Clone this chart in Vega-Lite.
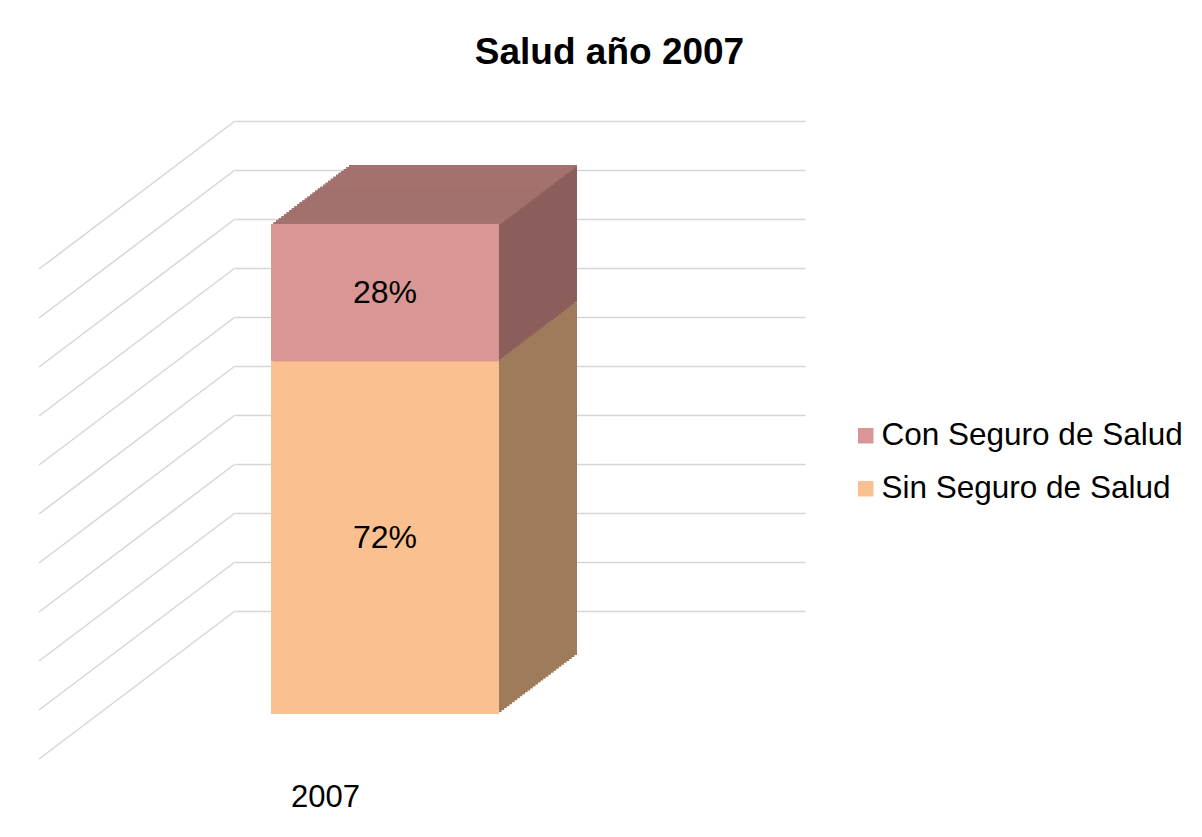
{
  "$schema": "https://vega.github.io/schema/vega-lite/v6.json",
  "width": 570,
  "height": 490,
  "autosize": "none",
  "padding": {"left": 235, "top": 121, "right": 397, "bottom": 226},
  "background": "#ffffff",
  "config": {"view": {"stroke": null}, "font": "Liberation Sans"},
  "title": {"text": "Salud año 2007", "fontSize": 37, "fontWeight": "bold", "color": "#000000", "anchor": "middle", "baseline": "alphabetic", "offset": 56, "dx": 89.5, "dy": 37},
  "datasets": {
    "salud": [
      {"year": "2007", "serie": "Con Seguro de Salud", "pct": 0.28},
      {"year": "2007", "serie": "Sin Seguro de Salud", "pct": 0.72}
    ],
    "grid": [{"g": 0}, {"g": 0.1}, {"g": 0.2}, {"g": 0.3}, {"g": 0.4}, {"g": 0.5}, {"g": 0.6}, {"g": 0.7}, {"g": 0.8}, {"g": 0.9}, {"g": 1}]
  },
  "layer": [
    {
      "data": {"name": "grid"},
      "mark": {"type": "rule", "color": "#D6D6D6", "strokeWidth": 1.5, "xOffset": -285, "x2Offset": -481, "y2Offset": 148},
      "encoding": {
        "x": {"datum": "2007", "type": "nominal", "scale": {"paddingInner": 0, "paddingOuter": 0.75}, "axis": {"title": null, "domain": false, "ticks": false, "tickSize": 0, "grid": false, "labelAngle": 0, "labelFontSize": 31, "labelColor": "#000000", "labelFont": "Liberation Sans", "labelOffset": -194.5, "labelPadding": 195, "labelBaseline": "alphabetic"}},
        "x2": {"datum": "2007"},
        "y": {"field": "g", "type": "quantitative", "scale": {"domain": [0, 1], "nice": false}, "axis": {"title": null, "values": [0, 0.1, 0.2, 0.3, 0.4, 0.5, 0.6, 0.7, 0.8, 0.9, 1], "domain": false, "ticks": false, "labels": false, "grid": true, "gridColor": "#D6D6D6", "gridWidth": 1.5}},
        "y2": {"field": "g"}
      }
    },
    {
      "data": {"name": "salud"},
      "transform": [{"stack": "pct", "groupby": ["year"], "sort": [{"field": "serie", "order": "descending"}], "as": ["y0", "y1"]}],
      "encoding": {
        "x": {"field": "year", "type": "nominal", "scale": {"paddingInner": 0, "paddingOuter": 0.75}, "axis": {"title": null, "domain": false, "ticks": false, "tickSize": 0, "grid": false, "labelAngle": 0, "labelFontSize": 31, "labelColor": "#000000", "labelFont": "Liberation Sans", "labelOffset": -194.5, "labelPadding": 195, "labelBaseline": "alphabetic"}},
        "y": {"field": "y1", "type": "quantitative", "scale": {"domain": [0, 1], "nice": false}, "axis": {"title": null, "values": [0, 0.1, 0.2, 0.3, 0.4, 0.5, 0.6, 0.7, 0.8, 0.9, 1], "domain": false, "ticks": false, "labels": false, "grid": true, "gridColor": "#D6D6D6", "gridWidth": 1.5}},
        "y2": {"field": "y0"}
      },
      "layer": [
        {
          "encoding": {"fill": {"condition": {"test": "datum.serie === 'Con Seguro de Salud'", "value": "#8B5E5C"}, "value": "#9E7C5B"}},
          "layer": [
            {"mark": {"type": "bar", "xOffset": -57, "yOffset": 44, "y2Offset": 44}},
            {"mark": {"type": "bar", "xOffset": -59.6, "yOffset": 45.97, "y2Offset": 45.97}},
            {"mark": {"type": "bar", "xOffset": -62.2, "yOffset": 47.93, "y2Offset": 47.93}},
            {"mark": {"type": "bar", "xOffset": -64.8, "yOffset": 49.9, "y2Offset": 49.9}},
            {"mark": {"type": "bar", "xOffset": -67.4, "yOffset": 51.87, "y2Offset": 51.87}},
            {"mark": {"type": "bar", "xOffset": -70, "yOffset": 53.83, "y2Offset": 53.83}},
            {"mark": {"type": "bar", "xOffset": -72.6, "yOffset": 55.8, "y2Offset": 55.8}},
            {"mark": {"type": "bar", "xOffset": -75.2, "yOffset": 57.77, "y2Offset": 57.77}},
            {"mark": {"type": "bar", "xOffset": -77.8, "yOffset": 59.73, "y2Offset": 59.73}},
            {"mark": {"type": "bar", "xOffset": -80.4, "yOffset": 61.7, "y2Offset": 61.7}},
            {"mark": {"type": "bar", "xOffset": -83, "yOffset": 63.67, "y2Offset": 63.67}},
            {"mark": {"type": "bar", "xOffset": -85.6, "yOffset": 65.63, "y2Offset": 65.63}},
            {"mark": {"type": "bar", "xOffset": -88.2, "yOffset": 67.6, "y2Offset": 67.6}},
            {"mark": {"type": "bar", "xOffset": -90.8, "yOffset": 69.57, "y2Offset": 69.57}},
            {"mark": {"type": "bar", "xOffset": -93.4, "yOffset": 71.53, "y2Offset": 71.53}},
            {"mark": {"type": "bar", "xOffset": -96, "yOffset": 73.5, "y2Offset": 73.5}},
            {"mark": {"type": "bar", "xOffset": -98.6, "yOffset": 75.47, "y2Offset": 75.47}},
            {"mark": {"type": "bar", "xOffset": -101.2, "yOffset": 77.43, "y2Offset": 77.43}},
            {"mark": {"type": "bar", "xOffset": -103.8, "yOffset": 79.4, "y2Offset": 79.4}},
            {"mark": {"type": "bar", "xOffset": -106.4, "yOffset": 81.37, "y2Offset": 81.37}},
            {"mark": {"type": "bar", "xOffset": -109, "yOffset": 83.33, "y2Offset": 83.33}},
            {"mark": {"type": "bar", "xOffset": -111.6, "yOffset": 85.3, "y2Offset": 85.3}},
            {"mark": {"type": "bar", "xOffset": -114.2, "yOffset": 87.27, "y2Offset": 87.27}},
            {"mark": {"type": "bar", "xOffset": -116.8, "yOffset": 89.23, "y2Offset": 89.23}},
            {"mark": {"type": "bar", "xOffset": -119.4, "yOffset": 91.2, "y2Offset": 91.2}},
            {"mark": {"type": "bar", "xOffset": -122, "yOffset": 93.17, "y2Offset": 93.17}},
            {"mark": {"type": "bar", "xOffset": -124.6, "yOffset": 95.13, "y2Offset": 95.13}},
            {"mark": {"type": "bar", "xOffset": -127.2, "yOffset": 97.1, "y2Offset": 97.1}},
            {"mark": {"type": "bar", "xOffset": -129.8, "yOffset": 99.07, "y2Offset": 99.07}},
            {"mark": {"type": "bar", "xOffset": -132.4, "yOffset": 101.03, "y2Offset": 101.03}}
          ]
        },
        {
          "transform": [{"filter": "datum.serie === 'Con Seguro de Salud'"}],
          "encoding": {"y": {"datum": 1, "type": "quantitative"}, "y2": {"datum": 0.9955}},
          "layer": [
            {"mark": {"type": "bar", "fill": "#A4726E", "xOffset": -57, "yOffset": 44, "y2Offset": 44}},
            {"mark": {"type": "bar", "fill": "#A4726E", "xOffset": -59.6, "yOffset": 45.97, "y2Offset": 45.97}},
            {"mark": {"type": "bar", "fill": "#A4726E", "xOffset": -62.2, "yOffset": 47.93, "y2Offset": 47.93}},
            {"mark": {"type": "bar", "fill": "#A4726E", "xOffset": -64.8, "yOffset": 49.9, "y2Offset": 49.9}},
            {"mark": {"type": "bar", "fill": "#A4726E", "xOffset": -67.4, "yOffset": 51.87, "y2Offset": 51.87}},
            {"mark": {"type": "bar", "fill": "#A4726E", "xOffset": -70, "yOffset": 53.83, "y2Offset": 53.83}},
            {"mark": {"type": "bar", "fill": "#A4726E", "xOffset": -72.6, "yOffset": 55.8, "y2Offset": 55.8}},
            {"mark": {"type": "bar", "fill": "#A4726E", "xOffset": -75.2, "yOffset": 57.77, "y2Offset": 57.77}},
            {"mark": {"type": "bar", "fill": "#A4726E", "xOffset": -77.8, "yOffset": 59.73, "y2Offset": 59.73}},
            {"mark": {"type": "bar", "fill": "#A4726E", "xOffset": -80.4, "yOffset": 61.7, "y2Offset": 61.7}},
            {"mark": {"type": "bar", "fill": "#A4726E", "xOffset": -83, "yOffset": 63.67, "y2Offset": 63.67}},
            {"mark": {"type": "bar", "fill": "#A4726E", "xOffset": -85.6, "yOffset": 65.63, "y2Offset": 65.63}},
            {"mark": {"type": "bar", "fill": "#A4726E", "xOffset": -88.2, "yOffset": 67.6, "y2Offset": 67.6}},
            {"mark": {"type": "bar", "fill": "#A4726E", "xOffset": -90.8, "yOffset": 69.57, "y2Offset": 69.57}},
            {"mark": {"type": "bar", "fill": "#A4726E", "xOffset": -93.4, "yOffset": 71.53, "y2Offset": 71.53}},
            {"mark": {"type": "bar", "fill": "#A4726E", "xOffset": -96, "yOffset": 73.5, "y2Offset": 73.5}},
            {"mark": {"type": "bar", "fill": "#A4726E", "xOffset": -98.6, "yOffset": 75.47, "y2Offset": 75.47}},
            {"mark": {"type": "bar", "fill": "#A4726E", "xOffset": -101.2, "yOffset": 77.43, "y2Offset": 77.43}},
            {"mark": {"type": "bar", "fill": "#A4726E", "xOffset": -103.8, "yOffset": 79.4, "y2Offset": 79.4}},
            {"mark": {"type": "bar", "fill": "#A4726E", "xOffset": -106.4, "yOffset": 81.37, "y2Offset": 81.37}},
            {"mark": {"type": "bar", "fill": "#A4726E", "xOffset": -109, "yOffset": 83.33, "y2Offset": 83.33}},
            {"mark": {"type": "bar", "fill": "#A4726E", "xOffset": -111.6, "yOffset": 85.3, "y2Offset": 85.3}},
            {"mark": {"type": "bar", "fill": "#A4726E", "xOffset": -114.2, "yOffset": 87.27, "y2Offset": 87.27}},
            {"mark": {"type": "bar", "fill": "#A4726E", "xOffset": -116.8, "yOffset": 89.23, "y2Offset": 89.23}},
            {"mark": {"type": "bar", "fill": "#A4726E", "xOffset": -119.4, "yOffset": 91.2, "y2Offset": 91.2}},
            {"mark": {"type": "bar", "fill": "#A4726E", "xOffset": -122, "yOffset": 93.17, "y2Offset": 93.17}},
            {"mark": {"type": "bar", "fill": "#A4726E", "xOffset": -124.6, "yOffset": 95.13, "y2Offset": 95.13}},
            {"mark": {"type": "bar", "fill": "#A4726E", "xOffset": -127.2, "yOffset": 97.1, "y2Offset": 97.1}},
            {"mark": {"type": "bar", "fill": "#A4726E", "xOffset": -129.8, "yOffset": 99.07, "y2Offset": 99.07}},
            {"mark": {"type": "bar", "fill": "#A4726E", "xOffset": -132.4, "yOffset": 101.03, "y2Offset": 101.03}}
          ]
        },
        {
          "mark": {"type": "bar", "xOffset": -135, "yOffset": 103, "y2Offset": 103},
          "encoding": {
            "color": {
              "field": "serie", "type": "nominal",
              "scale": {"domain": ["Con Seguro de Salud", "Sin Seguro de Salud"], "range": ["#D99694", "#FAC090"]},
              "legend": {"title": null, "orient": "none", "legendX": 615, "legendY": 299, "padding": 0, "symbolType": "square", "symbolSize": 240, "symbolStrokeWidth": 0, "labelFontSize": 31.5, "labelFont": "Liberation Sans", "labelColor": "#000000", "labelOffset": 0, "rowPadding": 20, "labelLimit": 400}
            }
          }
        }
      ]
    },
    {
      "data": {"name": "salud"},
      "transform": [
        {"stack": "pct", "groupby": ["year"], "sort": [{"field": "serie", "order": "descending"}], "as": ["y0", "y1"]},
        {"fold": ["y0", "y1"], "as": ["edge", "v"]},
        {"aggregate": [{"op": "mean", "field": "v", "as": "mid"}], "groupby": ["year", "serie", "pct"]}
      ],
      "mark": {"type": "text", "xOffset": -135, "yOffset": 103, "fontSize": 32, "font": "Liberation Sans", "color": "#000000", "align": "center", "baseline": "middle"},
      "encoding": {
        "x": {"field": "year", "type": "nominal", "scale": {"paddingInner": 0, "paddingOuter": 0.75}, "axis": {"title": null, "domain": false, "ticks": false, "tickSize": 0, "grid": false, "labelAngle": 0, "labelFontSize": 31, "labelColor": "#000000", "labelFont": "Liberation Sans", "labelOffset": -194.5, "labelPadding": 195, "labelBaseline": "alphabetic"}},
        "y": {"field": "mid", "type": "quantitative", "scale": {"domain": [0, 1], "nice": false}, "axis": {"title": null, "values": [0, 0.1, 0.2, 0.3, 0.4, 0.5, 0.6, 0.7, 0.8, 0.9, 1], "domain": false, "ticks": false, "labels": false, "grid": true, "gridColor": "#D6D6D6", "gridWidth": 1.5}},
        "text": {"field": "pct", "type": "quantitative", "format": ".0%"}
      }
    }
  ]
}
